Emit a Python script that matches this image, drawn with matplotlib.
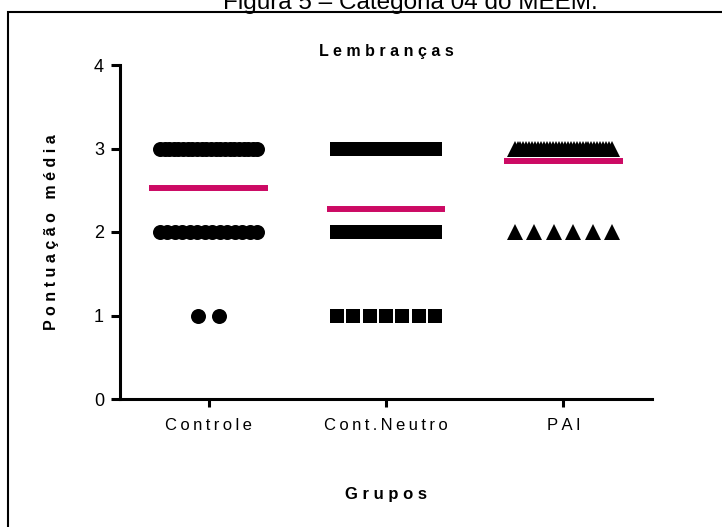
import numpy as np
import matplotlib
matplotlib.use("Agg")
import matplotlib.pyplot as plt
from matplotlib.patches import Rectangle

plt.rcParams['font.family'] = ['Liberation Sans', 'DejaVu Sans']

# Data: number of subjects with each score, per group
groups = ["Controle", "Cont.Neutro", "PAI"]
scores = [1, 2, 3]
controle_counts = [2, 14, 22]
neutro_counts = [7, 20, 20]
pai_counts = [0, 6, 34]
markers = ["o", "s", "^"]
marker_sizes = [10.8, 10.5, 11]

mean_color = "#CC0A64"


def spaced(s, sep=" "):
    # Prism-style letter spacing
    return sep.join(list(s))


def spread(n, width=0.55, step=0.118):
    # spread n points horizontally around the group centre
    if n <= 1:
        return np.zeros(n)
    d = min(step, width / (n - 1))
    return (np.arange(n) - (n - 1) / 2.0) * d


fig = plt.figure(figsize=(7.22, 5.27), dpi=100)
ax = fig.add_axes([120 / 722, 1 - 399 / 527, 532 / 722, 334 / 527])

all_counts = [controle_counts, neutro_counts, pai_counts]
for i, counts in enumerate(all_counts):
    for sc, n in zip(scores, counts):
        if n == 0:
            continue
        xs = i + spread(n)
        ax.plot(xs, np.full(n, sc), linestyle="none", marker=markers[i],
                ms=marker_sizes[i], mfc="black", mec="black", mew=0, zorder=3)
    vals = np.repeat(scores, counts)
    m = vals.mean()
    ax.plot([i - 0.335, i + 0.335], [m, m], color=mean_color, lw=4.3,
            solid_capstyle="butt", zorder=4)

ax.set_xlim(-0.5, 2.5)
ax.set_ylim(0, 4)
ax.set_yticks([0, 1, 2, 3, 4])
ax.set_xticks(range(len(groups)))
ax.set_xticklabels([spaced(g, "\u2009") for g in groups], fontsize=12)
ax.tick_params(axis="y", labelsize=13, length=6.5, width=2.2, pad=5)
ax.tick_params(axis="x", length=6, width=2.2, pad=8)

for side in ["top", "right"]:
    ax.spines[side].set_visible(False)
for side in ["left", "bottom"]:
    ax.spines[side].set_linewidth(2.2)
    ax.spines[side].set_capstyle("projecting")

ax.set_title(spaced("Lembranças"), fontsize=11.5, fontweight="bold",
             y=1.039, va="center", pad=0)
ax.set_ylabel(spaced("Pontuação média"), fontsize=11.5, fontweight="bold", va="center")
ax.yaxis.set_label_coords(-0.128, 0.5)
ax.set_xlabel(spaced("Grupos"), fontsize=12, fontweight="bold", va="center")
ax.xaxis.set_label_coords(0.5, -0.287)

# outer frame and the caption cut at the top of the page
fig.patches.append(Rectangle((8 / 722, -0.1), 1.2, 1.1 - 12 / 527,
                             transform=fig.transFigure, fill=False,
                             lw=1.5, ec="black", clip_on=False))
fig.text(410 / 722, 1 - 8.5 / 527, "Figura 5 \u2013 Categoria 04 do MEEM.",
         ha="center", va="baseline", fontsize=17.5)

fig.savefig("out.png", dpi=100)
